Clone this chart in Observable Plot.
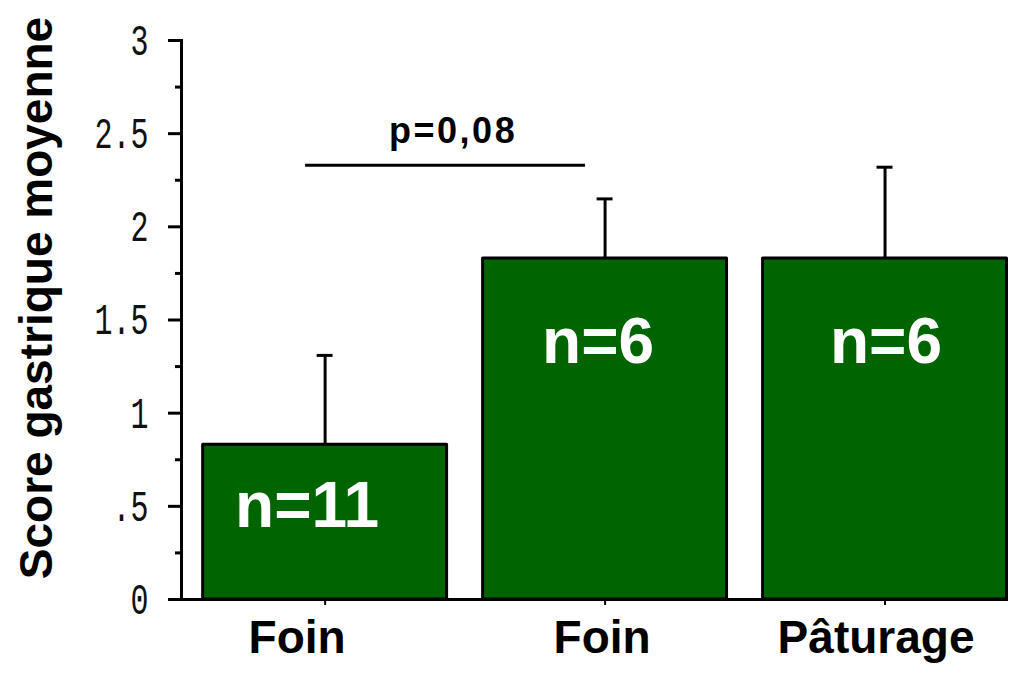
<!DOCTYPE html>
<html><head><meta charset="utf-8">
<script src="https://cdn.jsdelivr.net/npm/d3@7"></script>
<script src="https://cdn.jsdelivr.net/npm/@observablehq/plot@0.6"></script>
<style>
body{margin:0;background:#fff;}
</style></head><body><div id="chart"></div>
<script>
const groupIds = ["foin1", "foin2", "paturage"];
const groupLabels = ["Foin", "Foin", "Pâturage"];
const meanScores = [0.83, 1.83, 1.83];
const errorValues = [0.48, 0.32, 0.49];
const countLabels = ["n=11", "n=6", "n=6"];
const yTickValues = [0, 0.5, 1, 1.5, 2, 2.5, 3];
const yTickLabels = ["0", ".5", "1", "1.5", "2", "2.5", "3"];
const yMinorTickValues = [0.25, 0.75, 1.25, 1.75, 2.25, 2.75];
const comparisonLabel = "p=0,08";
const comparisonGroups = ["foin1", "foin2"];
const comparisonY = 2.33;
const yAxisTitle = "Score gastrique moyenne";

const data = groupIds.map((id, i) => ({id, label: groupLabels[i], mean: meanScores[i], err: errorValues[i], n: countLabels[i]}));

const labelNudges = [-28, -3, -9];
const countNudges = [[-18, 62], [-7, 84], [1, 84]];

const bold = "Liberation Sans, Arial, sans-serif";

const plot = Plot.plot({
  width: 1011,
  height: 680,
  marginLeft: 181,
  marginRight: 3,
  marginTop: 40,
  marginBottom: 81,
  style: {background: "#fff", overflow: "visible"},
  x: {type: "band", domain: groupIds, paddingInner: 0.118, paddingOuter: 0.036, align: 1, round: false},
  y: {domain: [0, 3]},
  marks: [
    Plot.barY(data, {x: "id", y: "mean", fill: "#006400", stroke: "#000", strokeWidth: 3, insetLeft: 1.5, insetRight: 1.5, strokeLinejoin: "round"}),
    Plot.ruleX(data, {x: "id", y1: "mean", y2: d => d.mean + d.err, stroke: "#000", strokeWidth: 3}),
    Plot.tickY(data, {x: "id", y: d => d.mean + d.err, stroke: "#000", strokeWidth: 3, insetLeft: 115.5, insetRight: 115.5}),
    Plot.ruleY([0], {stroke: "#000", strokeWidth: 3}),
    Plot.frame({anchor: "left", stroke: "#000", strokeWidth: 3}),
    Plot.axisY({ticks: yTickValues, tickSize: 13, tickPadding: 20, strokeWidth: 3, stroke: "#000", fill: "#111",
      tickFormat: d => yTickLabels[yTickValues.indexOf(d)], fontSize: 30, fontFamily: "Liberation Mono, monospace", label: null}),
    Plot.axisY({ticks: yMinorTickValues, tickSize: 6, strokeWidth: 3, stroke: "#000", tickFormat: () => "", label: null}),
    Plot.axisX({tickSize: 6, strokeWidth: 2, stroke: "#000", tickFormat: () => "", label: null}),
    ...data.map((d, i) => Plot.text([d], {x: "id", text: "label", frameAnchor: "bottom", dy: 53, dx: labelNudges[i],
      fontSize: 46, fontWeight: "bold", fontFamily: bold, fill: "#000"})),
    ...data.map((d, i) => Plot.text([d], {x: "id", y: "mean", text: "n", dx: countNudges[i][0], dy: countNudges[i][1],
      fontSize: 64, fontWeight: "bold", fontFamily: bold, fill: "#fff"})),
    Plot.link([comparisonGroups], {x1: d => d[0], x2: d => d[1], y1: () => comparisonY, y2: () => comparisonY, dx: -20, stroke: "#000", strokeWidth: 3}),
    Plot.text([comparisonLabel], {x: () => comparisonGroups[0], y: () => comparisonY, dx: 128, dy: -34, fontSize: 36, fontWeight: "bold", fontFamily: bold, fill: "#000"}),
    Plot.text([yAxisTitle], {frameAnchor: "left", textAnchor: "middle", rotate: -90, dx: -144, dy: -22, fontSize: 46, fontWeight: "bold", fontFamily: bold, fill: "#000"})
  ]
});

plot.querySelectorAll('g[aria-label="y-axis tick label"] text').forEach(t => {
  const tr = t.getAttribute("transform");
  if (tr) {
    t.setAttribute("transform", tr + " scale(1,1.5)");
  } else {
    const x = +t.getAttribute("x") || 0, y = +t.getAttribute("y") || 0;
    t.removeAttribute("x"); t.removeAttribute("y");
    t.setAttribute("transform", `translate(${x},${y}) scale(1,1.5)`);
  }
});

plot.querySelectorAll("text").forEach(t => {
  if (t.textContent === comparisonLabel) t.style.letterSpacing = "2.5px";
});

document.getElementById("chart").appendChild(plot);
</script>
</body></html>
